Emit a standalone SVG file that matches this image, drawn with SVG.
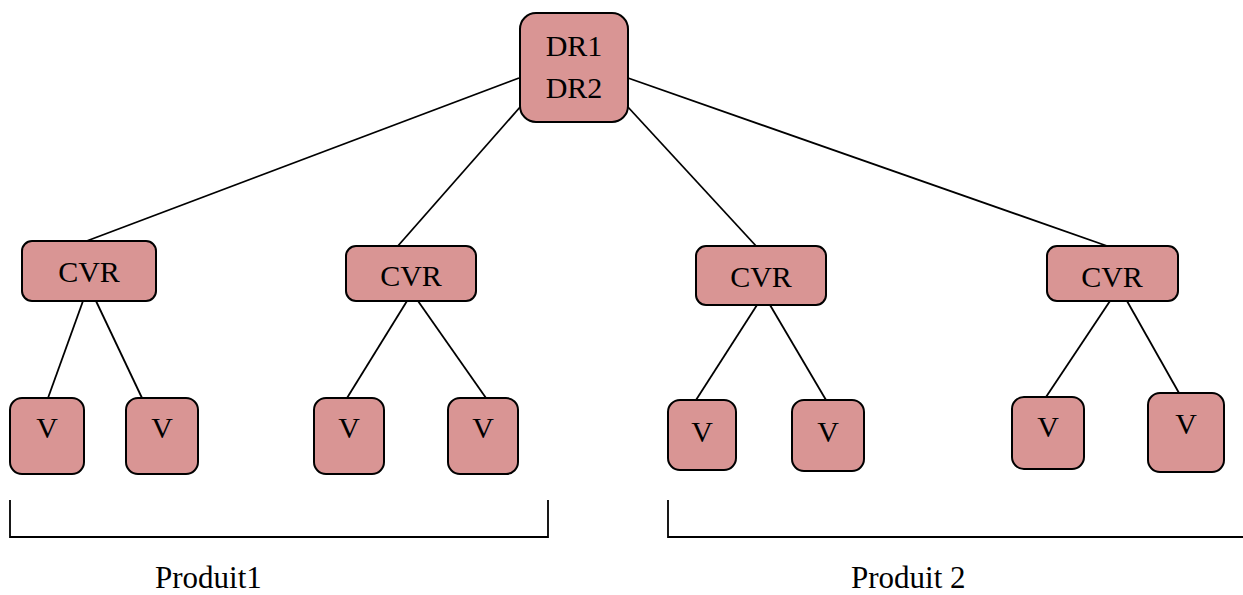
<svg xmlns="http://www.w3.org/2000/svg" width="1243" height="595" viewBox="0 0 1243 595">
  <style>
    .box { fill: #d99594; stroke: #000; stroke-width: 2; }
    .lbl { font-family: "Liberation Serif", "Times New Roman", serif; font-size: 30px; fill: #000; text-anchor: middle; }
    .link { stroke: #000; stroke-width: 1.8; fill: none; }
    .cap { font-family: "Liberation Serif", "Times New Roman", serif; font-size: 31px; fill: #000; }
  </style>

  <!-- connectors -->
  <g id="connectors" class="link">
    <line x1="519" y1="78" x2="84" y2="242"/>
    <line x1="521" y1="106" x2="397" y2="247"/>
    <line x1="627" y1="106" x2="757" y2="247"/>
    <line x1="628" y1="78" x2="1110" y2="247"/>
    <line x1="83" y1="301" x2="48" y2="398"/>
    <line x1="96" y1="301" x2="142" y2="398"/>
    <line x1="407" y1="301" x2="347" y2="398"/>
    <line x1="418" y1="301" x2="486" y2="398"/>
    <line x1="757" y1="305" x2="696" y2="400"/>
    <line x1="770" y1="305" x2="826" y2="400"/>
    <line x1="1110" y1="301" x2="1046" y2="397"/>
    <line x1="1127" y1="301" x2="1179" y2="393"/>
  </g>

  <!-- root -->
  <g id="dr">
    <rect class="box" x="520" y="13" width="108" height="109" rx="16"/>
    <text class="lbl" x="574" y="56">DR1</text>
    <text class="lbl" x="574" y="98">DR2</text>
  </g>

  <!-- second level -->
  <g id="cvr1">
    <rect class="box" x="22" y="241" width="134" height="60" rx="10"/>
    <text class="lbl" x="89" y="282">CVR</text>
  </g>
  <g id="cvr2">
    <rect class="box" x="346" y="246" width="130" height="55" rx="10"/>
    <text class="lbl" x="411" y="286">CVR</text>
  </g>
  <g id="cvr3">
    <rect class="box" x="696" y="246" width="130" height="59" rx="10"/>
    <text class="lbl" x="761" y="287">CVR</text>
  </g>
  <g id="cvr4">
    <rect class="box" x="1047" y="246" width="131" height="55" rx="10"/>
    <text class="lbl" x="1112" y="287">CVR</text>
  </g>

  <!-- leaves -->
  <g id="v1">
    <rect class="box" x="10" y="398" width="74" height="76" rx="12"/>
    <text class="lbl" x="47" y="438">V</text>
  </g>
  <g id="v2">
    <rect class="box" x="126" y="398" width="72" height="76" rx="12"/>
    <text class="lbl" x="162" y="438">V</text>
  </g>
  <g id="v3">
    <rect class="box" x="314" y="398" width="70" height="76" rx="12"/>
    <text class="lbl" x="349" y="438">V</text>
  </g>
  <g id="v4">
    <rect class="box" x="448" y="398" width="70" height="76" rx="12"/>
    <text class="lbl" x="483" y="438">V</text>
  </g>
  <g id="v5">
    <rect class="box" x="668" y="400" width="68" height="70" rx="12"/>
    <text class="lbl" x="702" y="442">V</text>
  </g>
  <g id="v6">
    <rect class="box" x="792" y="400" width="72" height="71" rx="12"/>
    <text class="lbl" x="828" y="442">V</text>
  </g>
  <g id="v7">
    <rect class="box" x="1012" y="397" width="72" height="72" rx="12"/>
    <text class="lbl" x="1048" y="437">V</text>
  </g>
  <g id="v8">
    <rect class="box" x="1148" y="393" width="76" height="79" rx="12"/>
    <text class="lbl" x="1186" y="434">V</text>
  </g>

  <!-- product brackets -->
  <g id="produit1">
    <polyline class="link" points="10,500 10,537 548,537 548,500"/>
    <text class="cap" x="155" y="588">Produit1</text>
  </g>
  <g id="produit2">
    <polyline class="link" points="668,500 668,537 1243,537"/>
    <text class="cap" x="851" y="588">Produit 2</text>
  </g>
</svg>
